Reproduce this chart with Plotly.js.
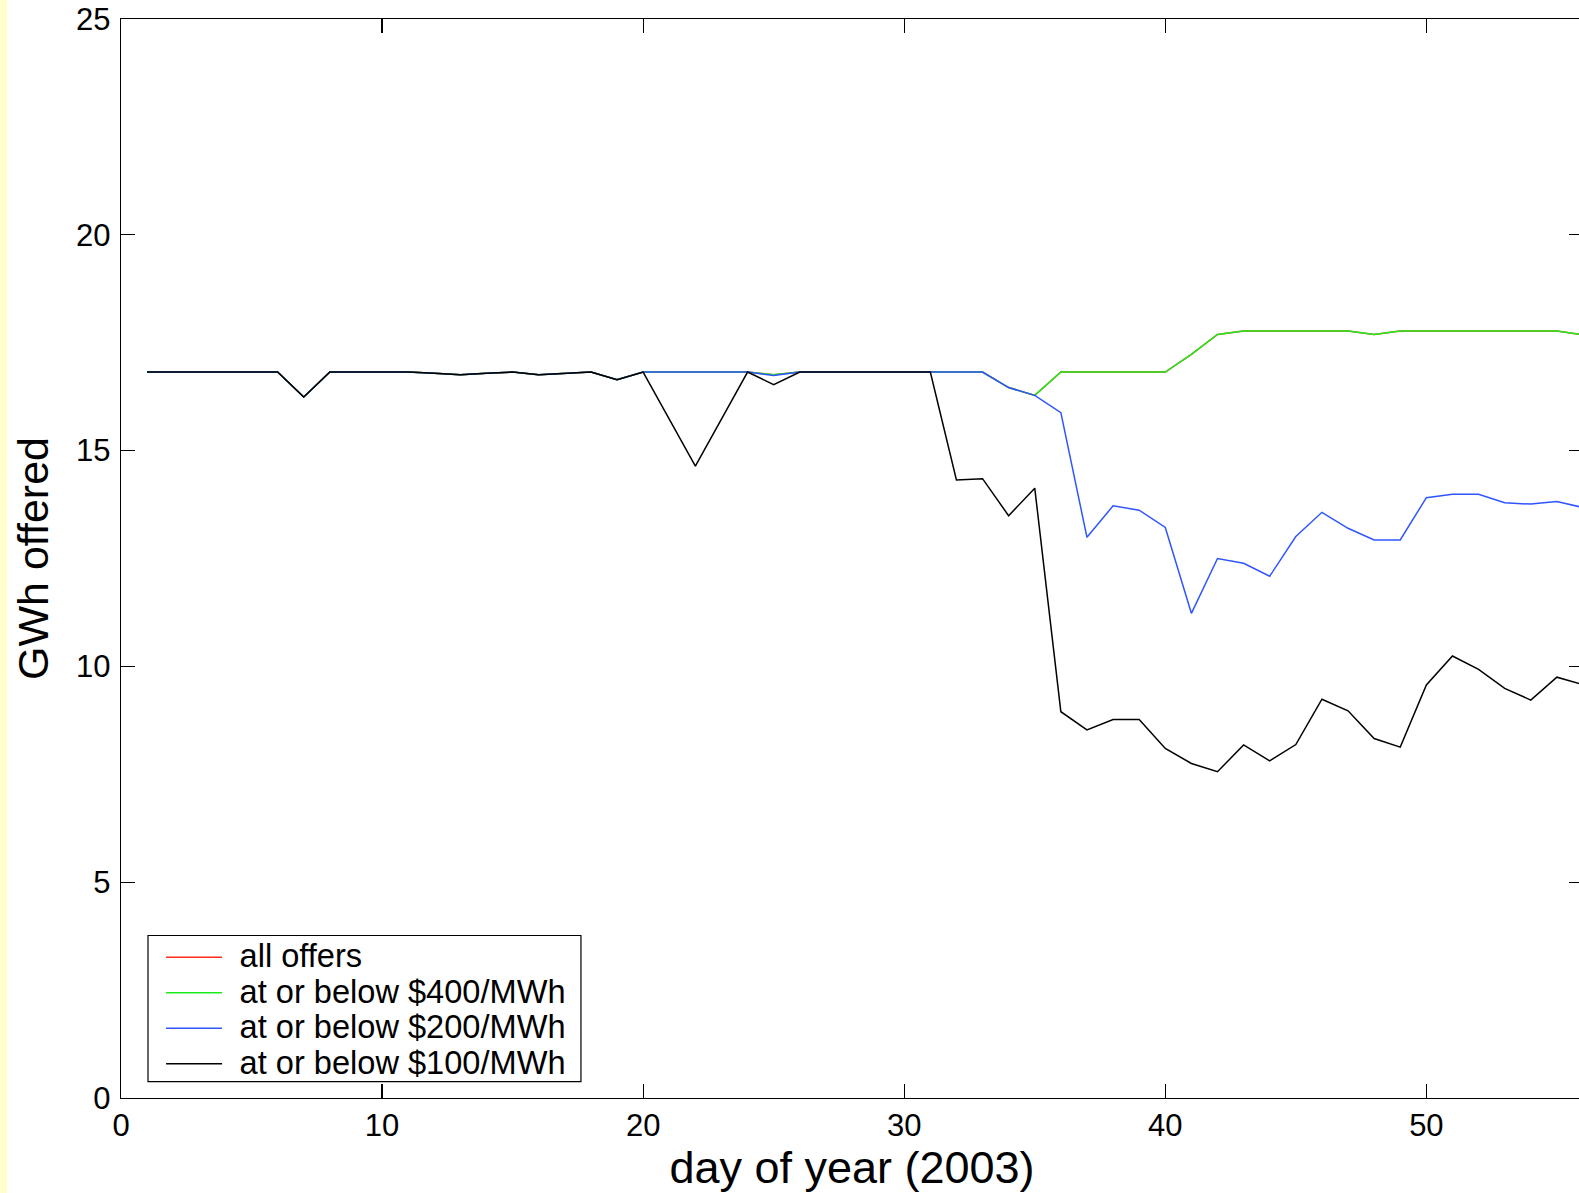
<!DOCTYPE html>
<html>
<head>
<meta charset="utf-8">
<script src="https://cdn.plot.ly/plotly-3.0.1.min.js"></script>
<style>
  html, body { margin: 0; padding: 0; background: #ffffff; overflow: hidden; }
  #chart { width: 1600px; height: 1193px; }
  #strip { position: fixed; left: 0; top: 0; width: 7px; height: 1193px; background: #ffffcc; z-index: 10; }
</style>
</head>
<body>
<div id="strip"></div>
<div id="chart"></div>
<script>
// day of year (2003)
const days = [];
for (let d = 1; d <= 56; d++) days.push(d);

// GWh offered, all offers (hidden beneath the $400 line)
const allOffers = [
  16.82,16.82,16.82,16.82,16.82,16.82,16.24,16.82,16.82,16.82,
  16.82,16.79,16.76,16.79,16.82,16.76,16.79,16.82,16.64,16.82,
  16.82,16.82,16.82,16.82,16.76,16.82,16.82,16.82,16.82,16.82,
  16.82,16.82,16.82,16.46,16.28,16.82,16.82,16.82,16.82,16.82,
  17.23,17.69,17.77,17.77,17.77,17.77,17.77,17.69,17.77,17.77,
  17.77,17.77,17.77,17.77,17.77,17.68
];

// GWh offered at or below $400/MWh
const below400 = [
  16.82,16.82,16.82,16.82,16.82,16.82,16.24,16.82,16.82,16.82,
  16.82,16.79,16.76,16.79,16.82,16.76,16.79,16.82,16.64,16.82,
  16.82,16.82,16.82,16.82,16.76,16.82,16.82,16.82,16.82,16.82,
  16.82,16.82,16.82,16.46,16.28,16.82,16.82,16.82,16.82,16.82,
  17.23,17.69,17.77,17.77,17.77,17.77,17.77,17.69,17.77,17.77,
  17.77,17.77,17.77,17.77,17.77,17.68
];

// GWh offered at or below $200/MWh
const below200 = [
  16.82,16.82,16.82,16.82,16.82,16.82,16.24,16.82,16.82,16.82,
  16.82,16.79,16.76,16.79,16.82,16.76,16.79,16.82,16.64,16.82,
  16.82,16.82,16.82,16.82,16.74,16.82,16.82,16.82,16.82,16.82,
  16.82,16.82,16.82,16.46,16.28,15.88,12.99,13.72,13.62,13.22,
  11.23,12.50,12.39,12.09,13.01,13.57,13.20,12.93,12.93,13.91,
  13.99,13.99,13.79,13.76,13.82,13.68
];

// GWh offered at or below $100/MWh
const below100 = [
  16.82,16.82,16.82,16.82,16.82,16.82,16.24,16.82,16.82,16.82,
  16.82,16.79,16.76,16.79,16.82,16.76,16.79,16.82,16.64,16.82,
  15.73,14.64,15.73,16.82,16.53,16.82,16.82,16.82,16.82,16.82,
  16.82,14.32,14.35,13.49,14.13,8.95,8.53,8.77,8.77,8.10,
  7.75,7.56,8.18,7.81,8.19,9.24,8.97,8.33,8.13,9.57,
  10.24,9.93,9.49,9.22,9.75,9.58
];

const seriesNames = [
  'all offers',
  'at or below $400/MWh',
  'at or below $200/MWh',
  'at or below $100/MWh'
];
const seriesValues = [allOffers, below400, below200, below100];
const seriesColors = ['#ff2a1a', '#1aee1a', '#2f55ff', '#000000'];

const xTickVals = [0, 10, 20, 30, 40, 50];
const yTickVals = [0, 5, 10, 15, 20, 25];

const FONT = 'Liberation Sans, Arial, Helvetica, sans-serif';

const traces = seriesValues.map((vals, i) => ({
  x: days,
  y: vals,
  type: 'scatter',
  mode: 'lines',
  name: '<span style="font-size:45px">\u00a0</span><span style="font-size:32.6px">' + seriesNames[i] + '</span>',
  line: { color: seriesColors[i], width: 1.5 },
  hoverinfo: 'skip'
}));

const axisCommon = {
  showgrid: false,
  zeroline: false,
  showline: true,
  linecolor: '#000000',
  linewidth: 1.2,
  mirror: 'ticks',
  ticks: 'inside',
  ticklen: 14,
  tickwidth: 1.2,
  tickcolor: '#000000',
  tickfont: { family: FONT, size: 31, color: '#000000' }
};

const layout = {
  width: 1600,
  height: 1193,
  margin: { l: 121, r: 17, t: 19, b: 95 },
  paper_bgcolor: '#ffffff',
  plot_bgcolor: '#ffffff',
  showlegend: true,
  legend: {
    x: 0.0274, y: 0.1515, xanchor: 'left', yanchor: 'top',
    bgcolor: 'rgba(0,0,0,0)', borderwidth: 0,
    font: { family: FONT, size: 25, color: '#000000' },
    itemwidth: 56,
    tracegroupgap: 0
  },
  shapes: [{
    type: 'rect', xref: 'paper', yref: 'paper',
    x0: 0.01847, x1: 0.3146, y0: 0.0151, y1: 0.1506,
    line: { color: '#000000', width: 1.2 },
    fillcolor: '#ffffff', layer: 'below'
  }],
  xaxis: Object.assign({}, axisCommon, {
    range: [0, 56],
    tickvals: xTickVals,
    ticktext: xTickVals.map(String),
    automargin: false,
    title: { text: 'day of year (2003)', font: { family: FONT, size: 45, color: '#000000' } }
  }),
  yaxis: Object.assign({}, axisCommon, {
    range: [0, 25],
    tickvals: yTickVals,
    ticktext: yTickVals.map(String),
    ticklabelstandoff: 3,
    automargin: 'left',
    title: { text: 'GWh offered', font: { family: FONT, size: 43, color: '#000000' }, standoff: 14 }
  })
};

Plotly.newPlot('chart', traces, layout, { displayModeBar: false, staticPlot: true });
</script>
</body>
</html>
